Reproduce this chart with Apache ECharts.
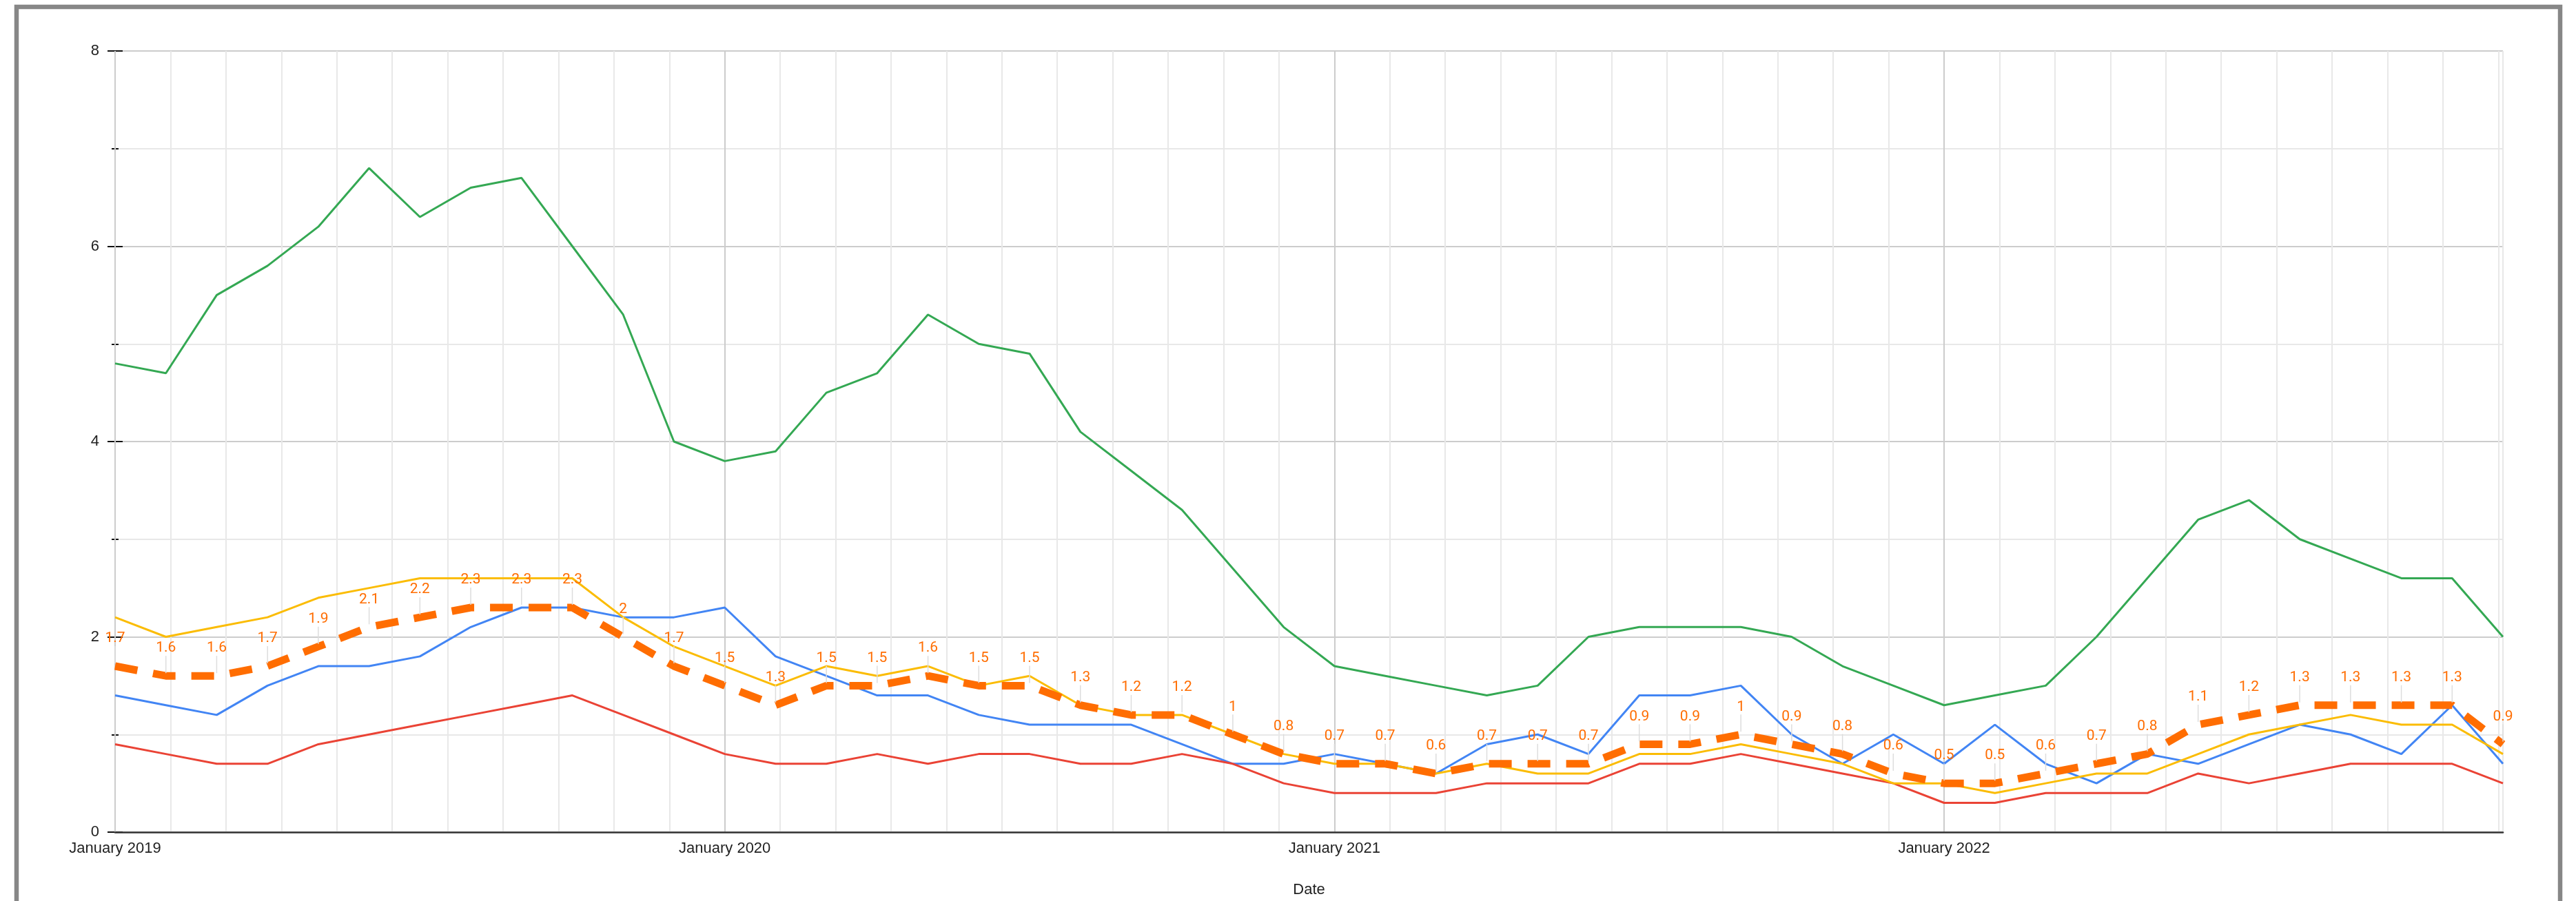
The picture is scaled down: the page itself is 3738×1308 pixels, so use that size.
<!DOCTYPE html>
<html>
<head>
<meta charset="utf-8">
<script src="https://cdn.jsdelivr.net/npm/echarts@6/dist/echarts.min.js"></script>
<style>
  html, body { margin: 0; padding: 0; background: #fff; }
  #chart { width: 3738px; height: 1308px; }
</style>
</head>
<body>
<div id="chart"></div>
<script>
const months = [
  'January 2019', 'February 2019', 'March 2019', 'April 2019', 'May 2019', 'June 2019',
  'July 2019', 'August 2019', 'September 2019', 'October 2019', 'November 2019', 'December 2019',
  'January 2020', 'February 2020', 'March 2020', 'April 2020', 'May 2020', 'June 2020',
  'July 2020', 'August 2020', 'September 2020', 'October 2020', 'November 2020', 'December 2020',
  'January 2021', 'February 2021', 'March 2021', 'April 2021', 'May 2021', 'June 2021',
  'July 2021', 'August 2021', 'September 2021', 'October 2021', 'November 2021', 'December 2021',
  'January 2022', 'February 2022', 'March 2022', 'April 2022', 'May 2022', 'June 2022',
  'July 2022', 'August 2022', 'September 2022', 'October 2022', 'November 2022', 'December 2022'
]

const blueSeries = [1.4, 1.3, 1.2, 1.5, 1.7, 1.7, 1.8, 2.1, 2.3, 2.3, 2.2, 2.2,
  2.3, 1.8, 1.6, 1.4, 1.4, 1.2, 1.1, 1.1, 1.1, 0.9, 0.7, 0.7,
  0.8, 0.7, 0.6, 0.9, 1.0, 0.8, 1.4, 1.4, 1.5, 1.0, 0.7, 1.0,
  0.7, 1.1, 0.7, 0.5, 0.8, 0.7, 0.9, 1.1, 1.0, 0.8, 1.3, 0.7]

const redSeries = [0.9, 0.8, 0.7, 0.7, 0.9, 1.0, 1.1, 1.2, 1.3, 1.4, 1.2, 1.0,
  0.8, 0.7, 0.7, 0.8, 0.7, 0.8, 0.8, 0.7, 0.7, 0.8, 0.7, 0.5,
  0.4, 0.4, 0.4, 0.5, 0.5, 0.5, 0.7, 0.7, 0.8, 0.7, 0.6, 0.5,
  0.3, 0.3, 0.4, 0.4, 0.4, 0.6, 0.5, 0.6, 0.7, 0.7, 0.7, 0.5]

const yellowSeries = [2.2, 2.0, 2.1, 2.2, 2.4, 2.5, 2.6, 2.6, 2.6, 2.6, 2.2, 1.9,
  1.7, 1.5, 1.7, 1.6, 1.7, 1.5, 1.6, 1.3, 1.2, 1.2, 1.0, 0.8,
  0.7, 0.7, 0.6, 0.7, 0.6, 0.6, 0.8, 0.8, 0.9, 0.8, 0.7, 0.5,
  0.5, 0.4, 0.5, 0.6, 0.6, 0.8, 1.0, 1.1, 1.2, 1.1, 1.1, 0.8]

const greenSeries = [4.8, 4.7, 5.5, 5.8, 6.2, 6.8, 6.3, 6.6, 6.7, 6.0, 5.3, 4.0,
  3.8, 3.9, 4.5, 4.7, 5.3, 5.0, 4.9, 4.1, 3.7, 3.3, 2.7, 2.1,
  1.7, 1.6, 1.5, 1.4, 1.5, 2.0, 2.1, 2.1, 2.1, 2.0, 1.7, 1.5,
  1.3, 1.4, 1.5, 2.0, 2.6, 3.2, 3.4, 3.0, 2.8, 2.6, 2.6, 2.0]

const averageSeries = [1.7, 1.6, 1.6, 1.7, 1.9, 2.1, 2.2, 2.3, 2.3, 2.3, 2.0, 1.7,
  1.5, 1.3, 1.5, 1.5, 1.6, 1.5, 1.5, 1.3, 1.2, 1.2, 1.0, 0.8,
  0.7, 0.7, 0.6, 0.7, 0.7, 0.7, 0.9, 0.9, 1.0, 0.9, 0.8, 0.6,
  0.5, 0.5, 0.6, 0.7, 0.8, 1.1, 1.2, 1.3, 1.3, 1.3, 1.3, 0.9]

const yTicks = { min: 0, max: 8, step: 2 }
const xTitle = 'Date'

const AXIS_FONT = '"Liberation Sans", Arial, sans-serif'
const NOTE_FONT = 'Roboto, "Liberation Sans", sans-serif'

function plainLine(name, data, color) {
    return {
        name,
        type: 'line',
        data,
        xAxisIndex: 0,
        yAxisIndex: 0,
        symbol: 'none',
        lineStyle: { color, width: 3 },
        itemStyle: { color }
    }
}

const chart = echarts.init(document.getElementById('chart'), null, { renderer: 'canvas' })

chart.setOption({
    backgroundColor: '#fff',
    animation: false,
    graphic: [
        {
            type: 'rect',
            shape: { x: 24, y: 10, width: 3691, height: 1400 },
            style: { fill: 'none', stroke: '#878787', lineWidth: 6.5 },
            silent: true
        }
    ],
    grid: { left: 167, right: 106, top: 74, bottom: 98, containLabel: false },
    xAxis: [
        {
            type: 'category',
            data: months,
            boundaryGap: false,
            z: 2,
            axisLine: { show: true, lineStyle: { color: '#333', width: 2.5 } },
            axisTick: { show: false },
            axisLabel: {
                interval: (i) => i % 12 === 0,
                color: '#222',
                fontSize: 22,
                fontFamily: AXIS_FONT,
                margin: 13
            },
            splitLine: {
                show: true,
                interval: (i) => i % 12 === 0,
                lineStyle: { color: '#cccccc', width: 2 }
            },
            name: xTitle,
            nameLocation: 'middle',
            nameGap: 73,
            nameTextStyle: { color: '#222', fontSize: 22, fontFamily: AXIS_FONT }
        },
        {
            // light gridlines, 11 per year like the original
            type: 'value',
            min: 0,
            max: months.length - 1,
            interval: 12 / 11,
            position: 'bottom',
            z: 0,
            axisLine: { show: false },
            axisTick: { show: false },
            axisLabel: { show: false },
            splitLine: { show: true, lineStyle: { color: '#e8e8e8', width: 2 } }
        }
    ],
    yAxis: [
        {
            type: 'value',
            min: yTicks.min,
            max: yTicks.max,
            interval: yTicks.step,
            axisLine: { show: true, lineStyle: { color: '#111', width: 2 } },
            axisTick: { show: true, length: 11, lineStyle: { color: '#111', width: 2 } },
            minorTick: { show: true, splitNumber: 2, length: 5, lineStyle: { color: '#111', width: 2 } },
            axisLabel: { color: '#222', fontSize: 22, fontFamily: AXIS_FONT, margin: 23 },
            splitLine: { show: true, lineStyle: { color: '#cccccc', width: 2 } },
            minorSplitLine: { show: true, lineStyle: { color: '#e8e8e8', width: 2 } }
        },
        {
            type: 'value',
            min: yTicks.min,
            max: yTicks.max,
            interval: yTicks.step,
            position: 'left',
            axisLine: { show: false },
            axisTick: { show: true, inside: true, length: 11, lineStyle: { color: '#111', width: 2 } },
            minorTick: { show: true, splitNumber: 2, length: 5, lineStyle: { color: '#111', width: 2 } },
            axisLabel: { show: false },
            splitLine: { show: false }
        }
    ],
    series: [
        plainLine('Blue', blueSeries, '#4285F4'),
        plainLine('Red', redSeries, '#EA4335'),
        plainLine('Yellow', yellowSeries, '#FBBC04'),
        plainLine('Green', greenSeries, '#34A853'),
        {
            name: 'Average',
            type: 'line',
            data: averageSeries,
            symbol: 'none',
            z: 3,
            lineStyle: { color: '#FF6D01', width: 11, type: [33, 23], cap: 'butt' },
            itemStyle: { color: '#FF6D01' }
        },
        {
            // value annotations with a thin stem, like the original chart
            name: 'Average labels',
            type: 'custom',
            z: 4,
            data: averageSeries.map((v, i) => [i, v]),
            renderItem(params, api) {
                const pt = api.coord([api.value(0), api.value(1)])
                return {
                    type: 'group',
                    children: [
                        {
                            type: 'line',
                            shape: { x1: pt[0], y1: pt[1] - 4, x2: pt[0], y2: pt[1] - 29 },
                            style: { stroke: '#dddddd', lineWidth: 1.5 }
                        },
                        {
                            type: 'text',
                            x: pt[0],
                            y: pt[1] - 40,
                            style: {
                                text: String(api.value(1)),
                                fill: '#FF6D01',
                                font: '21px ' + NOTE_FONT,
                                align: 'center',
                                verticalAlign: 'middle'
                            }
                        }
                    ]
                }
            }
        }
    ]
})
</script>
</body>
</html>
